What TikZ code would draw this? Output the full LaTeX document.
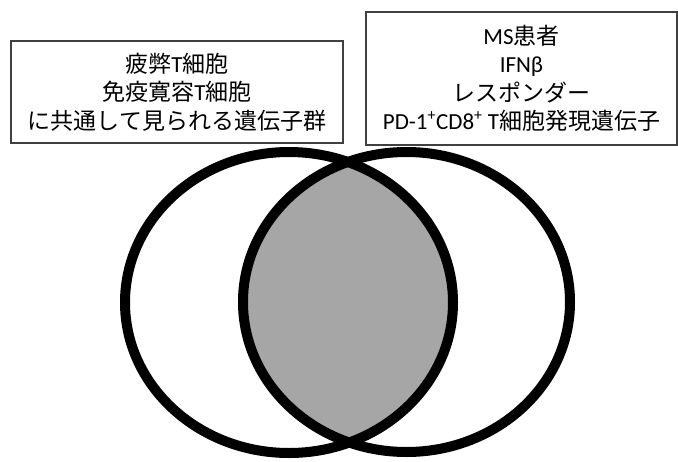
\documentclass[tikz,border=0pt]{standalone}
\usepackage{fontspec}
\setmainfont{Carlito}
\newfontfamily\cjkjp{Noto Sans CJK JP}
\newcommand{\jp}[1]{{\cjkjp #1}}
\definecolor{overlapgray}{HTML}{A6A6A6}
\definecolor{boxline}{HTML}{404040}
\begin{document}
\begin{tikzpicture}[x=1pt,y=-1pt,
  labelbox/.style={draw=boxline, line width=1.3pt, fill=white, align=center,
    inner sep=0pt, font=\fontsize{23}{28.5}\selectfont},
  ring/.style={draw=black, line width=10pt}]
\useasboundingbox (0,0) rectangle (678,461);
\begin{scope}
  \clip (289,302.5) ellipse [x radius=164, y radius=150.5];
  \fill[overlapgray] (406.5,302) ellipse [x radius=163.5, y radius=150];
\end{scope}
\draw[ring] (289,302.5) ellipse [x radius=164, y radius=150.5];
\draw[ring] (406.5,302) ellipse [x radius=163.5, y radius=150];
\node[labelbox, minimum width=332pt, minimum height=102pt] (left) at (177,92)
  {\jp{疲弊}T\jp{細胞}\\ \jp{免疫寛容}T\jp{細胞}\\ \jp{に共通して見られる遺伝子群}};
\node[labelbox, minimum width=311pt, minimum height=133pt] (right) at (521.5,78.5)
  {MS\jp{患者}\\ IFNβ\\ \jp{レスポンダー}\\ PD-1\textsuperscript{+}CD8\textsuperscript{+} T\jp{細胞発現遺伝子}};
\end{tikzpicture}
\end{document}
